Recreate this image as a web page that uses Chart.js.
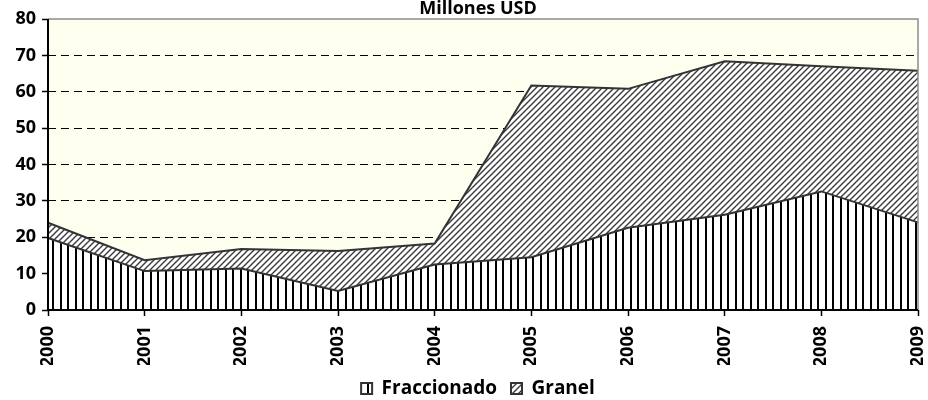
<!DOCTYPE html>
<html>
<head>
<meta charset="utf-8">
<script src="https://cdn.jsdelivr.net/npm/chart.js@4"></script>
<style>
  html, body { margin: 0; padding: 0; background: #fff; }
  #wrap { width: 928px; height: 400px; }
</style>
</head>
<body>
<div id="wrap"><canvas id="chart"></canvas></div>
<script>
// Millones USD por año
const years = ['2000', '2001', '2002', '2003', '2004', '2005', '2006', '2007', '2008', '2009'];
const fraccionado = [19.8, 10.7, 11.4, 5.2, 12.5, 14.5, 22.6, 26.2, 32.6, 24.1];
const granel = [4.2, 3.0, 5.4, 11.0, 5.8, 47.2, 38.2, 42.2, 34.4, 41.7];
const yMin = 0;
const yMax = 80;
const yStep = 10;

const FONT = '"Open Sans", Lato, sans-serif';

// vertical line fill (Fraccionado)
function verticalPattern() {
    const c = document.createElement('canvas');
    c.width = 15;
    c.height = 4;
    const x = c.getContext('2d');
    x.fillStyle = '#fff';
    x.fillRect(0, 0, 15, 4);
    x.fillStyle = '#000';
    x.fillRect(0, 0, 2, 4);
    x.fillRect(7, 0, 2, 4);
    return x.createPattern(c, 'repeat');
}

// diagonal hatch (Granel)
function diagonalPattern() {
    const s = 6;
    const c = document.createElement('canvas');
    c.width = s;
    c.height = s;
    const x = c.getContext('2d');
    x.fillStyle = '#fff';
    x.fillRect(0, 0, s, s);
    x.strokeStyle = '#3a3a3a';
    x.lineWidth = 1.4;
    x.beginPath();
    x.moveTo(-1, s + 1); x.lineTo(s + 1, -1);
    x.moveTo(-1, 1); x.lineTo(1, -1);
    x.moveTo(s - 1, s + 1); x.lineTo(s + 1, s - 1);
    x.stroke();
    return x.createPattern(c, 'repeat');
}

// plot background + frame, title/legend centred on the plot
const plotFrame = {
    id: 'plotFrame',
    afterLayout(chart) {
        const a = chart.chartArea;
        const shift = (a.left + a.right) / 2 - chart.width / 2;
        [chart.legend, chart.titleBlock].forEach(b => {
            if (!b) return;
            b.left += shift;
            b.right += shift;
        });
    },
    beforeDraw(chart) {
        const { ctx, chartArea: a } = chart;
        ctx.save();
        ctx.fillStyle = '#fffff0';
        ctx.fillRect(a.left, a.top, a.width, a.height);
        ctx.restore();
    },
    afterDatasetsDraw(chart) {
        const { ctx, chartArea: a } = chart;
        ctx.save();
        ctx.strokeStyle = '#8c8c8c';
        ctx.lineWidth = 1.5;
        ctx.beginPath();
        ctx.moveTo(a.left, a.top);
        ctx.lineTo(a.right, a.top);
        ctx.lineTo(a.right, a.bottom);
        ctx.stroke();
        ctx.strokeStyle = '#000';
        ctx.lineWidth = 2;
        ctx.beginPath();
        ctx.moveTo(a.left, a.top);
        ctx.lineTo(a.left, a.bottom);
        ctx.lineTo(a.right, a.bottom);
        ctx.stroke();
        ctx.restore();
    }
};

const ctx = document.getElementById('chart').getContext('2d');
new Chart(ctx, {
    type: 'line',
    data: {
        labels: years,
        datasets: [
            {
                label: 'Fraccionado',
                data: fraccionado,
                backgroundColor: verticalPattern(),
                borderColor: '#333',
                borderWidth: 2,
                fill: 'origin',
                tension: 0,
                pointRadius: 0
            },
            {
                label: 'Granel',
                data: granel,
                backgroundColor: diagonalPattern(),
                borderColor: '#333',
                borderWidth: 2,
                fill: '-1',
                tension: 0,
                pointRadius: 0
            }
        ]
    },
    options: {
        responsive: true,
        maintainAspectRatio: false,
        animation: false,
        layout: { padding: { left: 0, right: 10, top: 0, bottom: -8 } },
        plugins: {
            title: {
                display: true,
                text: 'Millones USD',
                color: '#000',
                font: { family: FONT, size: 18, weight: 'bold', lineHeight: 1 },
                padding: { top: 0, bottom: 1 }
            },
            legend: {
                position: 'bottom',
                labels: {
                    color: '#000',
                    font: { family: FONT, size: 19, weight: 'bold' },
                    boxWidth: 11,
                    boxHeight: 11,
                    padding: 14
                }
            },
            tooltip: { enabled: false }
        },
        scales: {
            x: {
                offset: false,
                border: { display: false },
                grid: {
                    drawOnChartArea: false,
                    drawTicks: true,
                    tickLength: 6,
                    tickColor: '#000',
                    tickWidth: 1.5
                },
                ticks: {
                    color: '#000',
                    font: { family: FONT, size: 18, weight: 'bold' },
                    minRotation: 90,
                    maxRotation: 90,
                    autoSkip: false,
                    padding: 10
                },
                afterFit(s) {
                    s.height = 55;
                    s.paddingLeft = 0;
                    s.paddingRight = 0;
                }
            },
            y: {
                stacked: true,
                min: yMin,
                max: yMax,
                border: { display: false, dash: [8, 5] },
                grid: {
                    color: c => (c.tick && (c.tick.value === yMin || c.tick.value === yMax)) ? 'rgba(0,0,0,0)' : '#000',
                    lineWidth: 1,
                    tickLength: 6,
                    tickColor: '#000',
                    tickWidth: 1.5,
                    tickBorderDash: []
                },
                ticks: {
                    stepSize: yStep,
                    color: '#000',
                    font: { family: FONT, size: 18, weight: 'bold' },
                    padding: 6
                },
                afterFit(s) { s.width = 48; }
            }
        }
    },
    plugins: [plotFrame]
});
</script>
</body>
</html>
